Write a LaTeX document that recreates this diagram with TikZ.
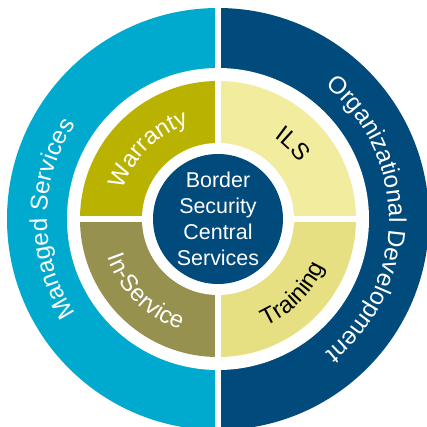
\documentclass[tikz,border=0pt]{standalone}
\usepackage{fontspec}
\setmainfont{Liberation Sans}
\usetikzlibrary{decorations.text}
\definecolor{msblue}{HTML}{00A9CE}
\definecolor{odnavy}{HTML}{004A7C}
\definecolor{warrantygold}{HTML}{BAB200}
\definecolor{ilsyellow}{HTML}{F2EC9E}
\definecolor{inservolive}{HTML}{979150}
\definecolor{trainyellow}{HTML}{E6E083}
\newcommand\ringfont{\fontsize{13.8}{16}\selectfont}
\newcommand\quadfont{\fontsize{13.5}{16}\selectfont}

\begin{document}
\begin{tikzpicture}[x=0.02cm,y=0.02cm,
  arctext/.style={decorate,decoration={text along path,text align=center}}]
\useasboundingbox[fill=white] (-218,-208) rectangle (209,219);
% outer halves
\fill[msblue] (0,-211) arc[start angle=270,end angle=90,radius=211] -- cycle;
\fill[odnavy] (0,211) arc[start angle=90,end angle=-90,radius=211] -- cycle;
\fill[white] (0,0) circle[radius=151];
% four quadrants
\fill[warrantygold] (0,0) -- (180:138) arc[start angle=180,end angle=90,radius=138] -- cycle;
\fill[ilsyellow] (0,0) -- (90:138) arc[start angle=90,end angle=0,radius=138] -- cycle;
\fill[trainyellow] (0,0) -- (0:138) arc[start angle=0,end angle=-90,radius=138] -- cycle;
\fill[inservolive] (0,0) -- (270:138) arc[start angle=270,end angle=180,radius=138] -- cycle;
\fill[white] (-3,-215) rectangle (3,225);
\fill[white] (-145,-3) rectangle (145,3);
\fill[white] (0,0) circle[radius=76];
\node[circle,fill=odnavy,minimum size=2.6cm,inner sep=0pt,text=white,align=center,
  font=\fontsize{12.2}{14.7}\selectfont] (hub) at (0,0) {Border\\Security\\Central\\Services};
% curved labels
\path[arctext,decoration={text color=white,text={|\ringfont|Managed Services}}]
  (215:171) arc[start angle=215,end angle=145,radius=171];
\path[arctext,decoration={text color=white,text={|\ringfont|Organizational Development}}]
  (65:171) arc[start angle=65,end angle=-65,radius=171];
\path[arctext,decoration={text color=white,text={|\quadfont|Warranty}}]
  (170:99) arc[start angle=170,end angle=100,radius=99];
\path[arctext,decoration={text color=black,text={|\quadfont|ILS}}]
  (75:99) arc[start angle=75,end angle=15,radius=99];
\path[arctext,decoration={text color=white,text={|\quadfont|In-Service}}]
  (190:117) arc[start angle=190,end angle=260,radius=117];
\path[arctext,decoration={text color=black,text={|\quadfont|Training}}]
  (280:117) arc[start angle=280,end angle=350,radius=117];
\end{tikzpicture}
\end{document}
